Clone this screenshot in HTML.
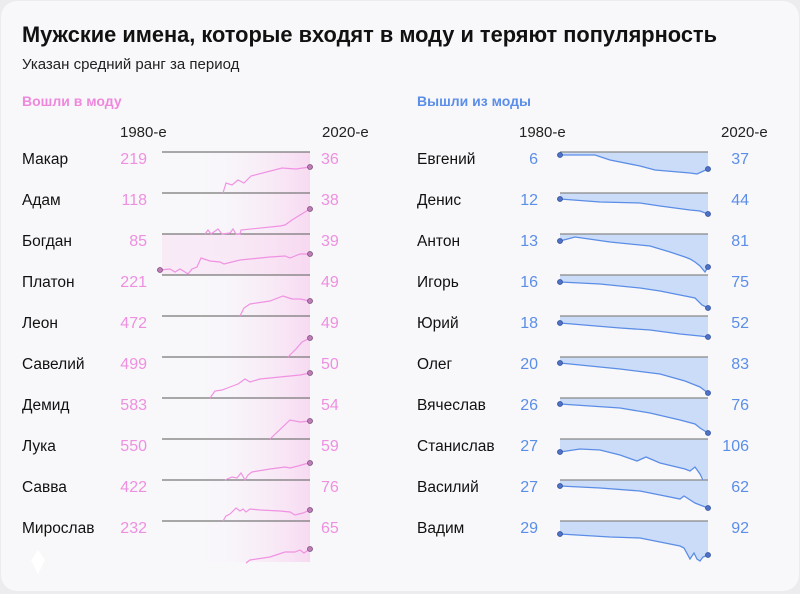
<!DOCTYPE html>
<html><head><meta charset="utf-8"><style>
html,body{margin:0;padding:0;background:#ececee;}
body{width:800px;height:594px;overflow:hidden;font-family:"Liberation Sans",sans-serif;}
svg{display:block}
</style></head><body>
<svg width="800" height="594" xmlns="http://www.w3.org/2000/svg" font-family="Liberation Sans, sans-serif">
<defs>
<linearGradient id="pg" x1="0" x2="1" y1="0" y2="0">
<stop offset="0" stop-color="#fbe6f6" stop-opacity="0"/>
<stop offset="0.4" stop-color="#fbe6f6" stop-opacity="0.1"/>
<stop offset="1" stop-color="#f6cdee" stop-opacity="0.7"/>
</linearGradient>
</defs>
<rect x="1" y="1" width="798" height="590" rx="16" fill="#f8f8fa"/>
<text x="22" y="42" font-size="21.8" font-weight="bold" fill="#111">Мужские имена, которые входят в моду и теряют популярность</text>
<text x="22" y="69" font-size="15" fill="#222">Указан средний ранг за период</text>
<text x="22" y="106" font-size="14" font-weight="bold" fill="#ee88dd">Вошли в моду</text>
<text x="417" y="106" font-size="14" font-weight="bold" fill="#5b8ee8">Вышли из моды</text>
<g font-size="15" fill="#222">
<text x="120" y="137">1980-е</text><text x="322" y="137">2020-е</text>
<text x="519" y="137">1980-е</text><text x="721" y="137">2020-е</text>
</g>
<g>
<rect x="162" y="152" width="148" height="410" fill="url(#pg)"/>
<rect x="162" y="234" width="148" height="41" fill="#f8d6f0" opacity="0.4"/>
</g>
<g stroke="#777" stroke-width="1.2">
<line x1="162" x2="310" y1="152" y2="152"/><line x1="162" x2="310" y1="193" y2="193"/>
<line x1="162" x2="310" y1="234" y2="234"/><line x1="162" x2="310" y1="275" y2="275"/>
<line x1="162" x2="310" y1="316" y2="316"/><line x1="162" x2="310" y1="357" y2="357"/>
<line x1="162" x2="310" y1="398" y2="398"/><line x1="162" x2="310" y1="439" y2="439"/>
<line x1="162" x2="310" y1="480" y2="480"/><line x1="162" x2="310" y1="521" y2="521"/>
</g>
<g fill="none" stroke="#f092e2" stroke-width="1.2">
<polyline transform="translate(0,152)" points="223,41 226,31 232,33 238,28 244,31 251,24 282,16 296,17 310,15"/>
<polyline transform="translate(0,193)" points="205,41 208,37 211,41 218,36 222,41 230,40 233,36 236,41 240,41 241,37 280,33 285,32 292,27 300,22 310,16"/>
<polyline transform="translate(0,234)" points="160,36 170,35 175,38 180,35 185,38 188,40 192,35 197,33 201,24 210,27 220,28 224,30 240,26 270,23 285,22 290,24 300,20 310,20"/>
<polyline transform="translate(0,275)" points="240,41 244,33 250,29 270,26 283,21 292,24 300,24 310,26"/>
<polyline transform="translate(0,316)" points="288,41 296,33 302,26 310,22"/>
<polyline transform="translate(0,357)" points="210,41 215,34 222,33 230,30 238,27 245,22 250,25 260,22 280,20 300,18 310,16"/>
<polyline transform="translate(0,398)" points="270,41 290,22 300,24 310,23"/>
<polyline transform="translate(0,439)" points="225,41 232,38 237,39 241,34 245,41 248,36 252,33 270,30 285,28 290,29 298,27 305,25 310,24"/>
<polyline transform="translate(0,480)" points="223,41 226,36 230,34 236,28 240,31 243,29 246,32 250,29 260,30 280,31 290,32 295,35 303,33 310,30"/>
<polyline transform="translate(0,521)" points="246,42 250,39 270,36 285,31 295,31 300,29 304,32 310,28"/>
</g>
<g fill="#c07cb8" stroke="#7a4f78" stroke-width="0.8">
<circle cx="310" cy="167" r="2.5"/><circle cx="310" cy="209" r="2.5"/>
<circle cx="310" cy="254" r="2.5"/><circle cx="160" cy="270" r="2.5"/>
<circle cx="310" cy="301" r="2.5"/><circle cx="310" cy="338" r="2.5"/>
<circle cx="310" cy="373" r="2.5"/><circle cx="310" cy="421" r="2.5"/>
<circle cx="310" cy="463" r="2.5"/><circle cx="310" cy="510" r="2.5"/>
<circle cx="310" cy="549" r="2.5"/>
</g>
<g fill="#cbdcf8">
<polygon transform="translate(0,152)" points="560,0 560,3 595,3 610,8 640,14 655,18 690,21 697,22 708,17 708,0"/>
<polygon transform="translate(0,193)" points="560,0 560,6 600,9 640,10 660,13 690,17 700,18 708,21 708,0"/>
<polygon transform="translate(0,234)" points="560,0 560,7 575,3 610,8 650,12 670,18 685,23 690,25 695,28 700,32 705,38 708,33 708,0"/>
<polygon transform="translate(0,275)" points="560,0 560,7 600,9 640,13 660,16 680,20 695,23 702,30 708,33 708,0"/>
<polygon transform="translate(0,316)" points="560,0 560,7 620,12 650,14 680,18 700,20 708,21 708,0"/>
<polygon transform="translate(0,357)" points="560,0 560,6 620,12 660,17 685,24 700,30 708,36 708,0"/>
<polygon transform="translate(0,398)" points="560,0 560,6 620,10 650,15 680,22 695,26 700,30 708,35 708,0"/>
<polygon transform="translate(0,439)" points="560,0 560,13 580,10 600,11 620,16 637,22 646,18 660,24 685,30 690,32 695,28 700,35 705,41 708,41 708,0"/>
<polygon transform="translate(0,480)" points="560,0 560,6 600,8 640,11 660,15 680,19 684,16 695,23 700,25 708,28 708,0"/>
<polygon transform="translate(0,521)" points="560,0 560,13 610,16 640,17 680,25 684,27 690,38 694,32 697,38 700,40 703,36 708,34 708,0"/>
</g>
<g stroke="#888" stroke-width="1.2">
<line x1="560" x2="708" y1="152" y2="152"/><line x1="560" x2="708" y1="193" y2="193"/>
<line x1="560" x2="708" y1="234" y2="234"/><line x1="560" x2="708" y1="275" y2="275"/>
<line x1="560" x2="708" y1="316" y2="316"/><line x1="560" x2="708" y1="357" y2="357"/>
<line x1="560" x2="708" y1="398" y2="398"/><line x1="560" x2="708" y1="439" y2="439"/>
<line x1="560" x2="708" y1="480" y2="480"/><line x1="560" x2="708" y1="521" y2="521"/>
</g>
<g fill="none" stroke="#5b8de6" stroke-width="1.3">
<polyline transform="translate(0,152)" points="560,3 595,3 610,8 640,14 655,18 690,21 697,22 708,17"/>
<polyline transform="translate(0,193)" points="560,6 600,9 640,10 660,13 690,17 700,18 708,21"/>
<polyline transform="translate(0,234)" points="560,7 575,3 610,8 650,12 670,18 685,23 690,25 695,28 700,32 705,38 708,33"/>
<polyline transform="translate(0,275)" points="560,7 600,9 640,13 660,16 680,20 695,23 702,30 708,33"/>
<polyline transform="translate(0,316)" points="560,7 620,12 650,14 680,18 700,20 708,21"/>
<polyline transform="translate(0,357)" points="560,6 620,12 660,17 685,24 700,30 708,36"/>
<polyline transform="translate(0,398)" points="560,6 620,10 650,15 680,22 695,26 700,30 708,35"/>
<polyline transform="translate(0,439)" points="560,13 580,10 600,11 620,16 637,22 646,18 660,24 685,30 690,32 695,28 700,35 703,41"/>
<polyline transform="translate(0,480)" points="560,6 600,8 640,11 660,15 680,19 684,16 695,23 700,25 708,28"/>
<polyline transform="translate(0,521)" points="560,13 610,16 640,17 680,25 684,27 690,38 694,32 697,38 700,40 703,36 708,34"/>
</g>
<g fill="#4f72c8" stroke="#2f4f98" stroke-width="0.8">
<circle cx="560" cy="155" r="2.5"/><circle cx="708" cy="169" r="2.5"/>
<circle cx="560" cy="199" r="2.5"/><circle cx="708" cy="214" r="2.5"/>
<circle cx="560" cy="241" r="2.5"/><circle cx="708" cy="267" r="2.5"/>
<circle cx="560" cy="282" r="2.5"/><circle cx="708" cy="308" r="2.5"/>
<circle cx="560" cy="323" r="2.5"/><circle cx="708" cy="337" r="2.5"/>
<circle cx="560" cy="363" r="2.5"/><circle cx="708" cy="393" r="2.5"/>
<circle cx="560" cy="404" r="2.5"/><circle cx="708" cy="433" r="2.5"/>
<circle cx="560" cy="452" r="2.5"/>
<circle cx="560" cy="486" r="2.5"/><circle cx="708" cy="508" r="2.5"/>
<circle cx="560" cy="534" r="2.5"/><circle cx="708" cy="555" r="2.5"/>
</g>
<g font-size="15.5" fill="#111">
<text x="22" y="164">Макар</text><text x="22" y="205">Адам</text><text x="22" y="246">Богдан</text>
<text x="22" y="287">Платон</text><text x="22" y="328">Леон</text><text x="22" y="369">Савелий</text>
<text x="22" y="410">Демид</text><text x="22" y="451">Лука</text><text x="22" y="492">Савва</text>
<text x="22" y="533">Мирослав</text>
<text x="417" y="164">Евгений</text><text x="417" y="205">Денис</text><text x="417" y="246">Антон</text>
<text x="417" y="287">Игорь</text><text x="417" y="328">Юрий</text><text x="417" y="369">Олег</text>
<text x="417" y="410">Вячеслав</text><text x="417" y="451">Станислав</text><text x="417" y="492">Василий</text>
<text x="417" y="533">Вадим</text>
</g>
<g font-size="16" fill="#ee8fe0" text-anchor="end">
<text x="147" y="164">219</text><text x="147" y="205">118</text><text x="147" y="246">85</text>
<text x="147" y="287">221</text><text x="147" y="328">472</text><text x="147" y="369">499</text>
<text x="147" y="410">583</text><text x="147" y="451">550</text><text x="147" y="492">422</text>
<text x="147" y="533">232</text>
</g>
<g font-size="16" fill="#ee8fe0">
<text x="321" y="164">36</text><text x="321" y="205">38</text><text x="321" y="246">39</text>
<text x="321" y="287">49</text><text x="321" y="328">49</text><text x="321" y="369">50</text>
<text x="321" y="410">54</text><text x="321" y="451">59</text><text x="321" y="492">76</text>
<text x="321" y="533">65</text>
</g>
<g font-size="16" fill="#5b8ee8" text-anchor="end">
<text x="538" y="164">6</text><text x="538" y="205">12</text><text x="538" y="246">13</text>
<text x="538" y="287">16</text><text x="538" y="328">18</text><text x="538" y="369">20</text>
<text x="538" y="410">26</text><text x="538" y="451">27</text><text x="538" y="492">27</text>
<text x="538" y="533">29</text>
<text x="749" y="164">37</text><text x="749" y="205">44</text><text x="749" y="246">81</text>
<text x="749" y="287">75</text><text x="749" y="328">52</text><text x="749" y="369">83</text>
<text x="749" y="410">76</text><text x="749" y="451">106</text><text x="749" y="492">62</text>
<text x="749" y="533">92</text>
</g>
<polygon points="38,550 45,560 38,574 31,560" fill="#ffffff"/>
</svg>
</body></html>
